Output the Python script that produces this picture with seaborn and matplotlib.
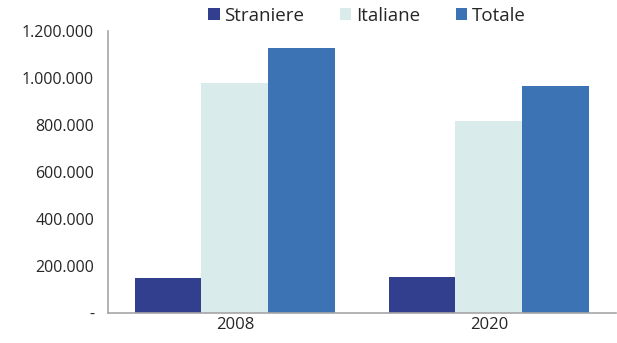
import pandas as pd
import matplotlib.pyplot as plt
import matplotlib.ticker as mticker
import seaborn as sns

# Data
anni = ["2008", "2020"]
serie = ["Straniere", "Italiane", "Totale"]
straniere = [147000, 151000]
italiane = [980000, 816000]
totale = [1126000, 967000]

colori = ["#323E8E", "#D9EBEA", "#3B73B4"]

df = pd.DataFrame({
    "anno": anni * 3,
    "serie": [s for s in serie for _ in anni],
    "valore": straniere + italiane + totale,
})

sns.set_style("white")
plt.rcParams['font.family'] = ['Open Sans', 'DejaVu Sans']

fig, ax = plt.subplots(figsize=(6.17, 3.43), dpi=100)
fig.subplots_adjust(left=0.175, right=0.998, top=0.91, bottom=0.088)

sns.barplot(data=df, x="anno", y="valore", hue="serie", hue_order=serie,
            palette=colori, width=0.79, gap=0, saturation=1, linewidth=0, ax=ax)

ax.set_ylim(0, 1200000)
ax.set_xlim(-0.5, 1.5)
ax.yaxis.set_major_locator(mticker.MultipleLocator(200000))
ax.yaxis.set_major_formatter(mticker.FuncFormatter(
    lambda v, p: "-" if v == 0 else f"{int(v):,}".replace(",", ".")))
ax.set_xlabel("")
ax.set_ylabel("")

# Excel-style tick marks between categories
ax.set_xticks([-0.5, 0.5, 1.5], minor=True)
ax.tick_params(axis="x", which="major", length=0, labelsize=12, pad=3)
ax.tick_params(axis="x", which="minor", length=4, color="#A6A6A6", direction="out")
ax.tick_params(axis="y", length=4, color="#A6A6A6", direction="out", labelsize=11.5, pad=6)

sns.despine(ax=ax)
for s in ["left", "bottom"]:
    ax.spines[s].set_color("#A6A6A6")
    ax.spines[s].set_linewidth(1.2)

handles, labels = ax.get_legend_handles_labels()
ax.get_legend().remove()
fig.legend(handles, labels, loc="center", bbox_to_anchor=(367 / 617, 1 - 16 / 343),
           ncol=3, frameon=False, fontsize=13.5, handlelength=0.6, handleheight=0.6,
           handletextpad=0.25, columnspacing=1.9, borderaxespad=0)

fig.savefig("out.png", dpi=100)
